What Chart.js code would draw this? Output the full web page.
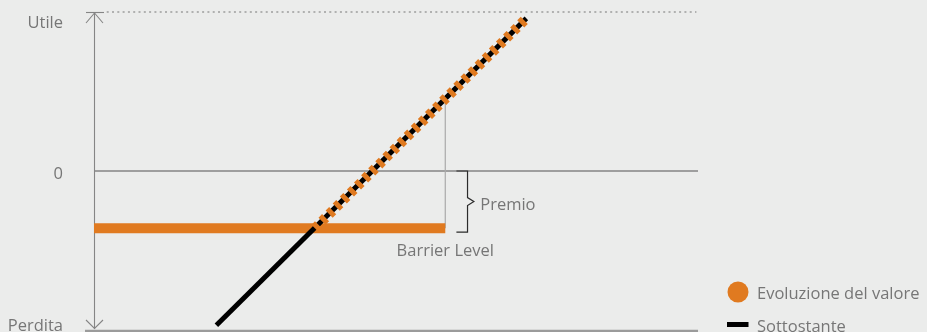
<!DOCTYPE html>
<html>
<head>
<meta charset="utf-8">
<script src="https://cdn.jsdelivr.net/npm/chart.js@4"></script>
<style>
  html, body { margin:0; padding:0; background:#ebeceb; }
  #wrap { width:927px; height:332px; position:relative; overflow:hidden; }
  canvas { display:block; }
</style>
</head>
<body>
<div id="wrap"><canvas id="c" width="927" height="332"></canvas></div>
<script>
// ---- data ----
const yTickValues = [100, 0, -100];
const yTickLabels = ['Utile', '0', 'Perdita'];
const seriesLabels = ['Evoluzione del valore', 'Sottostante'];
// Sottostante (underlying): straight line
const underlyingX = [77, 272];
const underlyingY = [-97, 96];
// Evoluzione del valore: flat part at barrier, then follows underlying
const evoFlatX = [0, 221];
const evoFlatY = [-36, -36];
const evoRiseX = [139, 272];
const evoRiseY = [-36, 96];
// Barrier level vertical reference
const barrierX = [221, 221];
const barrierY = [-36, 46];
// top dotted reference (max profit)
const capX = [8, 379];
const capY = [100, 100];
// premium brace
const premioRange = [0, -38.5];
const premioBraceX = [228, 235, 239];
const barrierLabelPos = [221, -50.5];
const premioLabelPos = [243, -21.5];

const pts = (xs, ys) => xs.map((x, i) => ({x, y: ys[i]}));

const ORANGE = '#e07a20';
const TXT = '#767676';
const FONT = '16.5px "Open Sans", "Noto Sans", sans-serif';

const decor = {
  id: 'decor',
  beforeDatasetsDraw(chart) {
    const {ctx, chartArea:a, scales:{x, y}} = chart;
    const X = v => x.getPixelForValue(v), Y = v => y.getPixelForValue(v);
    ctx.save();
    // zero line
    ctx.strokeStyle = '#858585'; ctx.lineWidth = 1.3;
    ctx.beginPath(); ctx.moveTo(X(0), Y(0)); ctx.lineTo(a.right, Y(0)); ctx.stroke();
    // bottom line
    ctx.strokeStyle = '#9b9b9b'; ctx.lineWidth = 2.6;
    ctx.beginPath(); ctx.moveTo(X(0) - 9, Y(-100) + 1); ctx.lineTo(a.right, Y(-100) + 1); ctx.stroke();
    // vertical axis with arrows
    const ax = X(0) + 0.5;
    ctx.strokeStyle = '#858585'; ctx.lineWidth = 1.1;
    ctx.beginPath(); ctx.moveTo(ax, Y(100)); ctx.lineTo(ax, Y(-100) - 1); ctx.stroke();
    ctx.beginPath(); ctx.moveTo(ax - 8.5, Y(100) + 0.5); ctx.lineTo(ax + 9.5, Y(100) + 0.5); ctx.stroke();
    ctx.beginPath(); ctx.moveTo(ax - 8.5, Y(100) + 11); ctx.lineTo(ax, Y(100) + 1); ctx.lineTo(ax + 8.5, Y(100) + 11); ctx.stroke();
    ctx.beginPath(); ctx.moveTo(ax - 8.5, Y(-100) - 10); ctx.lineTo(ax, Y(-100) - 1.5); ctx.lineTo(ax + 8.5, Y(-100) - 10); ctx.stroke();
    ctx.restore();
  },
  afterDraw(chart) {
    const {ctx, chartArea:a, scales:{x, y}} = chart;
    const X = v => x.getPixelForValue(v), Y = v => y.getPixelForValue(v);
    ctx.save();
    ctx.font = FONT; ctx.fillStyle = TXT; ctx.textBaseline = 'middle';
    // y tick labels
    ctx.textAlign = 'right';
    yTickValues.forEach((v, i) => {
      let py = Y(v);
      if (i === 0) py += 11; else if (i === 2) py -= 4; else py += 3;
      ctx.fillText(yTickLabels[i], a.left - 31, py);
    });
    // brace
    const [b0, b1, b2] = premioBraceX.map(X);
    const yt = Y(premioRange[0]), yb = Y(premioRange[1]), ym = (yt + yb) / 2;
    ctx.strokeStyle = '#2b2b2b'; ctx.lineWidth = 1.2;
    ctx.beginPath();
    ctx.moveTo(b0, yt); ctx.lineTo(b1, yt); ctx.lineTo(b1, ym - 4); ctx.lineTo(b2, ym);
    ctx.lineTo(b1, ym + 4); ctx.lineTo(b1, yb); ctx.lineTo(b0, yb);
    ctx.stroke();
    // annotation text
    ctx.textAlign = 'left';
    ctx.fillText('Premio', X(premioLabelPos[0]), Y(premioLabelPos[1]));
    ctx.textAlign = 'center';
    ctx.fillText('Barrier Level', X(barrierLabelPos[0]), Y(barrierLabelPos[1]));
    // legend
    const lx = a.right + 40;
    ctx.fillStyle = ORANGE;
    ctx.beginPath(); ctx.arc(lx, 292, 10.5, 0, Math.PI * 2); ctx.fill();
    ctx.fillStyle = '#000';
    ctx.fillRect(lx - 11, 322, 21.5, 5);
    ctx.fillStyle = TXT; ctx.textAlign = 'left';
    ctx.fillText(seriesLabels[0], lx + 19, 294);
    ctx.fillText(seriesLabels[1], lx + 19, 327);
    ctx.restore();
  }
};

new Chart(document.getElementById('c'), {
  type: 'scatter',
  data: {
    datasets: [
      { label: seriesLabels[0] + ' (rise)', data: pts(evoRiseX, evoRiseY), showLine: true,
        borderColor: ORANGE, borderWidth: 10, borderDash: [5, 5], borderCapStyle: 'butt',
        pointRadius: 0, clip: false, order: 0 },
      { label: seriesLabels[1], data: pts(underlyingX, underlyingY), showLine: true,
        borderColor: '#000', borderWidth: 5, borderCapStyle: 'butt',
        pointRadius: 0, clip: false, order: 1 },
      { label: seriesLabels[0], data: pts(evoFlatX, evoFlatY), showLine: true,
        borderColor: ORANGE, borderWidth: 10, borderCapStyle: 'butt',
        pointRadius: 0, clip: false, order: 2 },
      { label: 'Barrier', data: pts(barrierX, barrierY), showLine: true,
        borderColor: '#a9a9a9', borderWidth: 1.2,
        pointRadius: 0, clip: false, order: 3 },
      { label: 'Cap', data: pts(capX, capY), showLine: true,
        borderColor: '#9d9d9d', borderWidth: 1.6, borderDash: [2, 3.3],
        pointRadius: 0, clip: false, order: 4 }
    ]
  },
  options: {
    responsive: false,
    animation: false,
    events: [],
    layout: { padding: { left: 94, right: 229, top: 12, bottom: 2 } },
    scales: {
      x: { type: 'linear', min: 0, max: 380, display: false },
      y: { type: 'linear', min: -100, max: 100, display: false }
    },
    plugins: { legend: { display: false }, tooltip: { enabled: false } }
  },
  plugins: [decor]
});
</script>
</body>
</html>
